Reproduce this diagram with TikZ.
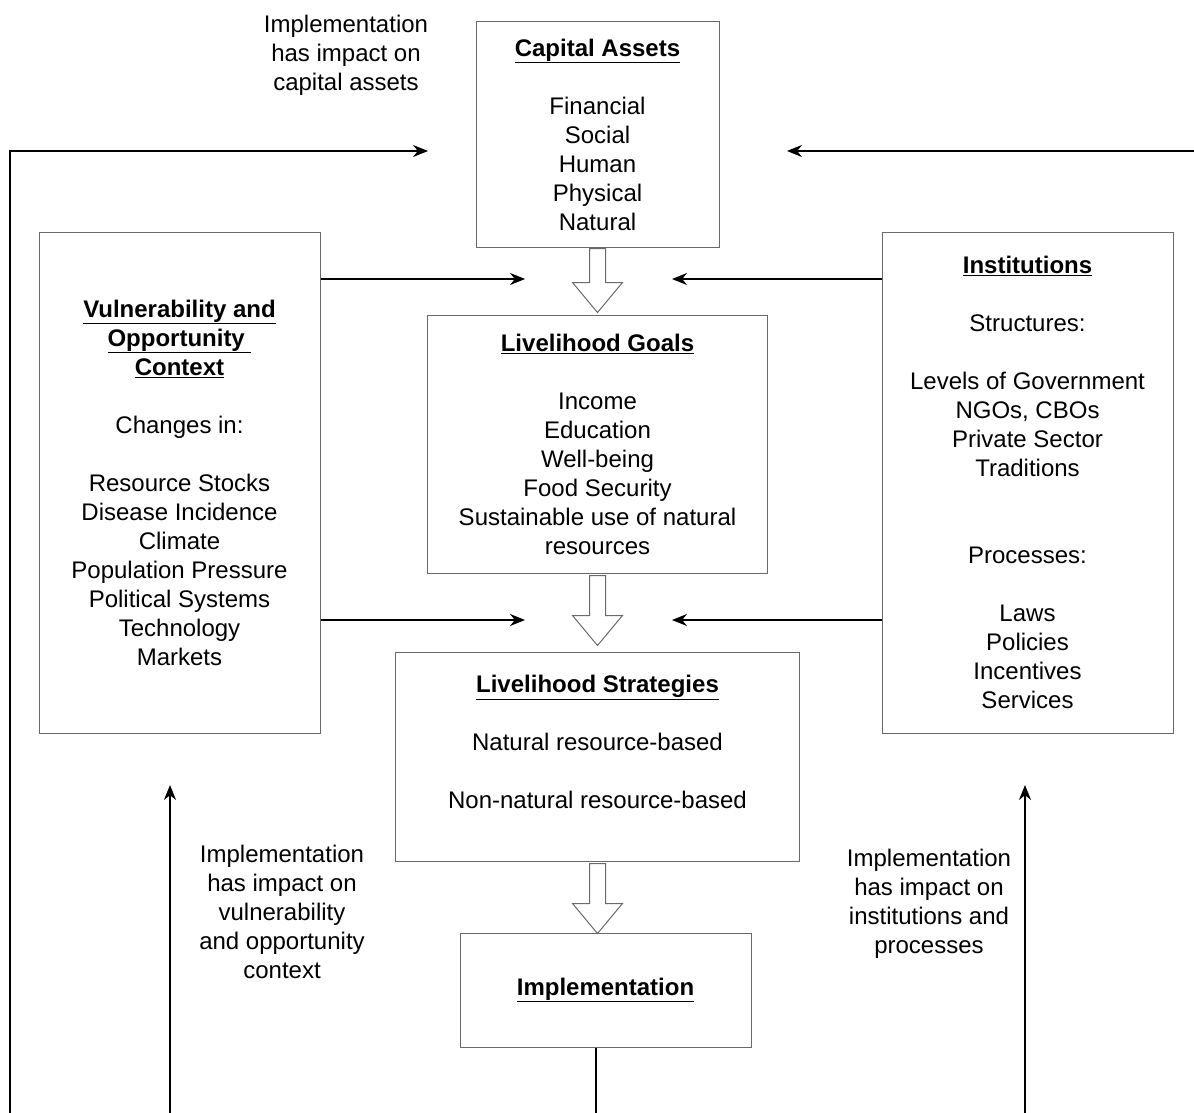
\documentclass[tikz,border=0pt]{standalone}
\usepackage{fontspec}
\setmainfont{Liberation Sans}
\usetikzlibrary{arrows.meta, positioning, calc}
\definecolor{boxgray}{RGB}{105,105,105}

\newcommand{\heading}[1]{\underline{\textbf{#1}}}

\begin{document}
\begin{tikzpicture}[
    x=1pt, y=-1pt,
    font=\fontsize{24}{29}\selectfont,
    box/.style={rectangle, draw=boxgray, line width=1pt, align=center, inner sep=0pt},
    note/.style={align=center, inner sep=0pt},
    arrow/.style={line width=1.1pt, ->, >={Stealth[length=15pt,width=12pt]}},
    line/.style={line width=1.1pt},
    blockarrow/.style={draw=boxgray, line width=1pt, fill=white}
]
\useasboundingbox (0,0) rectangle (1194,1113);

% Centre column
\node[box, minimum width=243pt, minimum height=225pt] (cap) at (597.5,134.5) {\heading{Capital Assets}\\[29pt]Financial\\Social\\Human\\Physical\\Natural};
\node[box, below=67pt of cap, minimum width=340pt, minimum height=258pt] (goals) {\heading{Livelihood Goals}\\[29pt]Income\\Education\\Well-being\\Food Security\\Sustainable use of natural\\resources};
\node[box, below=78pt of goals, minimum width=404pt, minimum height=209pt] (strat) {\heading{Livelihood Strategies}\\[29pt]Natural resource-based\\[29pt]Non-natural resource-based\\\mbox{}};
\node[box, below=71pt of strat, xshift=8pt, minimum width=291pt, minimum height=114pt] (impl) {\heading{Implementation}};

% Side boxes
\node[box, minimum width=281pt, minimum height=501pt] (vuln) at (179.5,482.5) {\heading{Vulnerability and}\\\heading{Opportunity\ }\\\heading{Context}\\[29pt]Changes in:\\[29pt]Resource Stocks\\Disease Incidence\\Climate\\Population Pressure\\Political Systems\\Technology\\Markets};
\node[box, minimum width=291pt, minimum height=501pt] (inst) at (1027.5,482.5) {\heading{Institutions}\\[29pt]Structures:\\[29pt]Levels of Government\\NGOs, CBOs\\Private Sector\\Traditions\\[58pt]Processes:\\[29pt]Laws\\Policies\\Incentives\\Services};

% Notes
\node[note] (capnote) at (346,55) {Implementation\\has impact on\\capital assets};
\node[note] (vulnnote) at (282,912) {Implementation\\has impact on\\vulnerability\\and opportunity\\context};
\node[note] (instnote) at (929,904) {Implementation\\has impact on\\institutions and\\processes};

% Free ends
\coordinate (capin-l) at (428,151);
\coordinate (capin-r) at (787,151);
\coordinate (loop-l) at (10,1113);
\coordinate (loop-r) at (1194,151);
\coordinate (goalsin-l) at (525,279);
\coordinate (goalsin-r) at (672,279);
\coordinate (stratin-l) at (525,620);
\coordinate (stratin-r) at (672,620);
\coordinate (vulnup) at (170,785);
\coordinate (instup) at (1025,785);
\coordinate (implout) at (596,1113);

% Block arrows
\draw[blockarrow] ($(cap.south)+(-8,1)$) -- ++(0,34) -- ++(-17,0) -- ++(25,30) -- ++(25,-30) -- ++(-17,0) -- ++(0,-34) -- cycle;
\draw[blockarrow] ($(goals.south)+(-8,2)$) -- ++(0,40) -- ++(-17,0) -- ++(25,30) -- ++(25,-30) -- ++(-17,0) -- ++(0,-40) -- cycle;
\draw[blockarrow] ($(strat.south)+(-8,2)$) -- ++(0,40) -- ++(-17,0) -- ++(25,30) -- ++(25,-30) -- ++(-17,0) -- ++(0,-40) -- cycle;

% Arrows
\draw[arrow] (loop-l) |- (capin-l);
\draw[arrow] (loop-r) -- (capin-r);
\draw[arrow] (vuln.east |- goalsin-l) -- (goalsin-l);
\draw[arrow] (inst.west |- goalsin-r) -- (goalsin-r);
\draw[arrow] (vuln.east |- stratin-l) -- (stratin-l);
\draw[arrow] (inst.west |- stratin-r) -- (stratin-r);
\draw[arrow] (vulnup |- loop-l) -- (vulnup);
\draw[arrow] (instup |- loop-l) -- (instup);
\draw[line] (impl.south -| implout) -- (implout);

\end{tikzpicture}
\end{document}
